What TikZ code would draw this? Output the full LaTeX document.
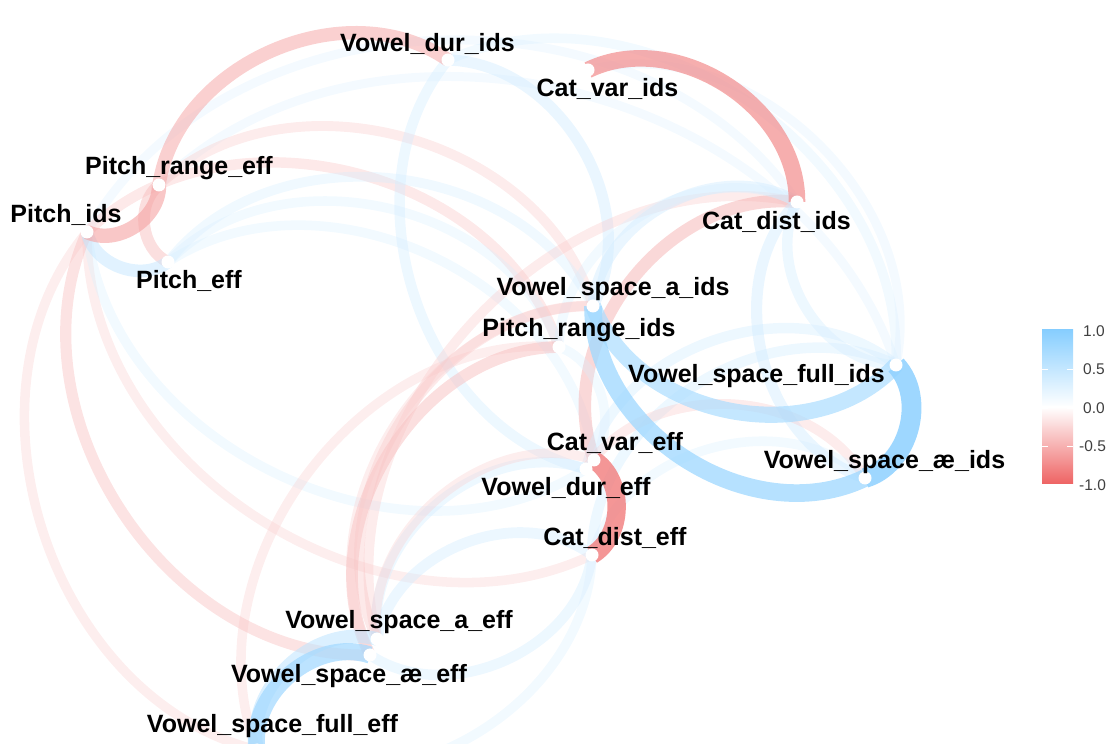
\documentclass[tikz,border=0pt]{standalone}
\usepackage{fontspec}
\setmainfont{Liberation Sans}
\usetikzlibrary{positioning}

\definecolor{poscol}{RGB}{135,206,255}
\definecolor{negcol}{RGB}{238,99,99}

% one correlation edge: from, to, r, bend
\newcommand{\corredge}[4]{%
	\pgfmathsetmacro{\edgeabs}{abs(#3)}%
	\pgfmathsetmacro{\edgepct}{100*\edgeabs}%
	\pgfmathsetmacro{\edgewidth}{3.6*(1+5*\edgeabs)}%
	\ifdim #3pt<0pt \colorlet{edgecol}{negcol!\edgepct!white}\else\colorlet{edgecol}{poscol!\edgepct!white}\fi
	\draw[line width=\edgewidth pt, draw=edgecol, draw opacity=\edgeabs] (#1) to[bend left=#4] (#2);
}

\begin{document}
\begin{tikzpicture}
	[x=1pt, y=1pt,
	dot/.style = {fill=white},
	lbl/.style = {anchor=base, inner sep=0pt, font=\fontsize{25}{30}\selectfont\bfseries},
	tick/.style = {anchor=west, inner sep=0pt, text=black!75, font=\fontsize{15.5}{18}\selectfont}
	]
	\useasboundingbox (0,0) rectangle (1116,744);

	\coordinate (VDi) at (448,684);
	\coordinate (CVi) at (588,674);
	\coordinate (PRe) at (159,559);
	\coordinate (Pi) at (87,512);
	\coordinate (Pe) at (168,482);
	\coordinate (CDi) at (797,542);
	\coordinate (VSai) at (593,438);
	\coordinate (PRi) at (559,397);
	\coordinate (VSfi) at (896,379);
	\coordinate (CVe) at (594,284);
	\coordinate (VDe) at (586,275);
	\coordinate (CDe) at (592,189);
	\coordinate (VSaei) at (865,266);
	\coordinate (VSae) at (377,105);
	\coordinate (VSaee) at (370,89);
	\coordinate (VSfe) at (257,-6);

	\corredge{Pi}{CDi}{0.3}{58}
	\corredge{PRe}{VSfi}{0.3}{58}
	\corredge{VDi}{VSfi}{0.33}{58}
	\corredge{CVi}{VSfi}{0.3}{58}
	\corredge{Pi}{VSfe}{-0.33}{-58}
	\corredge{Pi}{CDe}{-0.33}{-58}
	\corredge{Pi}{VDe}{0.33}{-58}
	\corredge{PRi}{VSfe}{-0.33}{-58}
	\corredge{PRe}{VSai}{-0.35}{58}
	\corredge{Pi}{PRi}{-0.38}{58}
	\corredge{Pe}{VSai}{0.35}{58}
	\corredge{Pe}{CVe}{0.33}{58}
	\corredge{Pe}{PRi}{0.33}{58}
	\corredge{VDi}{VDe}{0.38}{-58}
	\corredge{VDi}{VSai}{0.42}{58}
	\corredge{CDi}{VSae}{-0.35}{-58}
	\corredge{CDi}{CVe}{-0.5}{-58}
	\corredge{CDi}{VSaei}{0.42}{-58}
	\corredge{CDi}{VSfi}{0.38}{-58}
	\corredge{VSai}{CDi}{0.42}{58}
	\corredge{PRi}{CDi}{0.33}{58}
	\corredge{VDe}{VSfi}{0.38}{58}
	\corredge{CDe}{VSfi}{0.38}{58}
	\corredge{VDe}{VSaei}{-0.35}{58}
	\corredge{CDe}{VSaei}{0.33}{58}
	\corredge{VSae}{CDe}{0.4}{58}
	\corredge{VSae}{VDe}{0.38}{58}
	\corredge{VSae}{CVe}{-0.33}{58}
	\corredge{PRi}{VSaee}{-0.45}{-58}
	\corredge{VSai}{VSae}{-0.38}{-58}
	\corredge{VSai}{VSaee}{-0.33}{-58}
	\corredge{VSaee}{CDe}{0.38}{-58}
	\corredge{VSfe}{CDe}{0.33}{-58}
	\corredge{PRi}{VDe}{0.33}{58}
	\corredge{Pi}{VSaee}{-0.42}{-58}

	\corredge{PRe}{Pe}{-0.45}{-58}
	\corredge{Pi}{Pe}{0.5}{-58}
	\corredge{Pi}{PRe}{-0.6}{-58}
	\corredge{PRe}{VDi}{-0.55}{58}
	\corredge{CVi}{CDi}{-0.72}{58}
	\corredge{VSai}{VSfi}{0.7}{-58}
	\corredge{VSai}{VSaei}{0.78}{-58}
	\corredge{VSfi}{VSaei}{0.9}{58}
	\corredge{VSae}{VSfe}{0.55}{-58}
	\corredge{VSaee}{VSfe}{0.75}{-58}
	\corredge{CVe}{CDe}{-0.82}{58}

	\foreach \n in {VDi,CVi,PRe,Pi,Pe,CDi,VSai,PRi,VSfi,CVe,VDe,CDe,VSaei,VSae,VSaee,VSfe}
		\fill[dot] (\n) circle (6.5);

	\node[lbl] (VDi-l) at (427.5,692) {Vowel\_dur\_ids};
	\node[lbl] (CVi-l) at (607.5,647) {Cat\_var\_ids};
	\node[lbl] (PRe-l) at (179,569) {Pitch\_range\_eff};
	\node[lbl] (Pi-l) at (66,521) {Pitch\_ids};
	\node[lbl] (Pe-l) at (189,455) {Pitch\_eff};
	\node[lbl] (CDi-l) at (776.5,514) {Cat\_dist\_ids};
	\node[lbl] (VSai-l) at (613,448) {Vowel\_space\_a\_ids};
	\node[lbl] (PRi-l) at (579,407) {Pitch\_range\_ids};
	\node[lbl] (VSfi-l) at (756.5,361) {Vowel\_space\_full\_ids};
	\node[lbl] (CVe-l) at (615,293) {Cat\_var\_eff};
	\node[lbl] (VDe-l) at (566,248) {Vowel\_dur\_eff};
	\node[lbl] (CDe-l) at (615,198) {Cat\_dist\_eff};
	\node[lbl] (VSaei-l) at (884.5,275) {Vowel\_space\_æ\_ids};
	\node[lbl] (VSae-l) at (399,115) {Vowel\_space\_a\_eff};
	\node[lbl] (VSaee-l) at (349,61) {Vowel\_space\_æ\_eff};
	\node[lbl] (VSfe-l) at (272.5,11) {Vowel\_space\_full\_eff};

	% colour bar
	\shade[top color=poscol, bottom color=white] (1042,337) rectangle (1073,414);
	\shade[top color=white, bottom color=negcol] (1042,260) rectangle (1073,337);
	\foreach \y in {297.5,336,374.5} {
		\draw[white, line width=0.6pt] (1042,\y) -- ++(6,0);
		\draw[white, line width=0.6pt] (1073,\y) -- ++(-6,0);
	}
	\node[tick] (t1) at (1083,413) {1.0};
	\node[tick] (t2) at (1083,374.5) {0.5};
	\node[tick] (t3) at (1083,336) {0.0};
	\node[tick] (t4) at (1079,297.5) {-0.5};
	\node[tick] (t5) at (1079,259) {-1.0};
\end{tikzpicture}
\end{document}
